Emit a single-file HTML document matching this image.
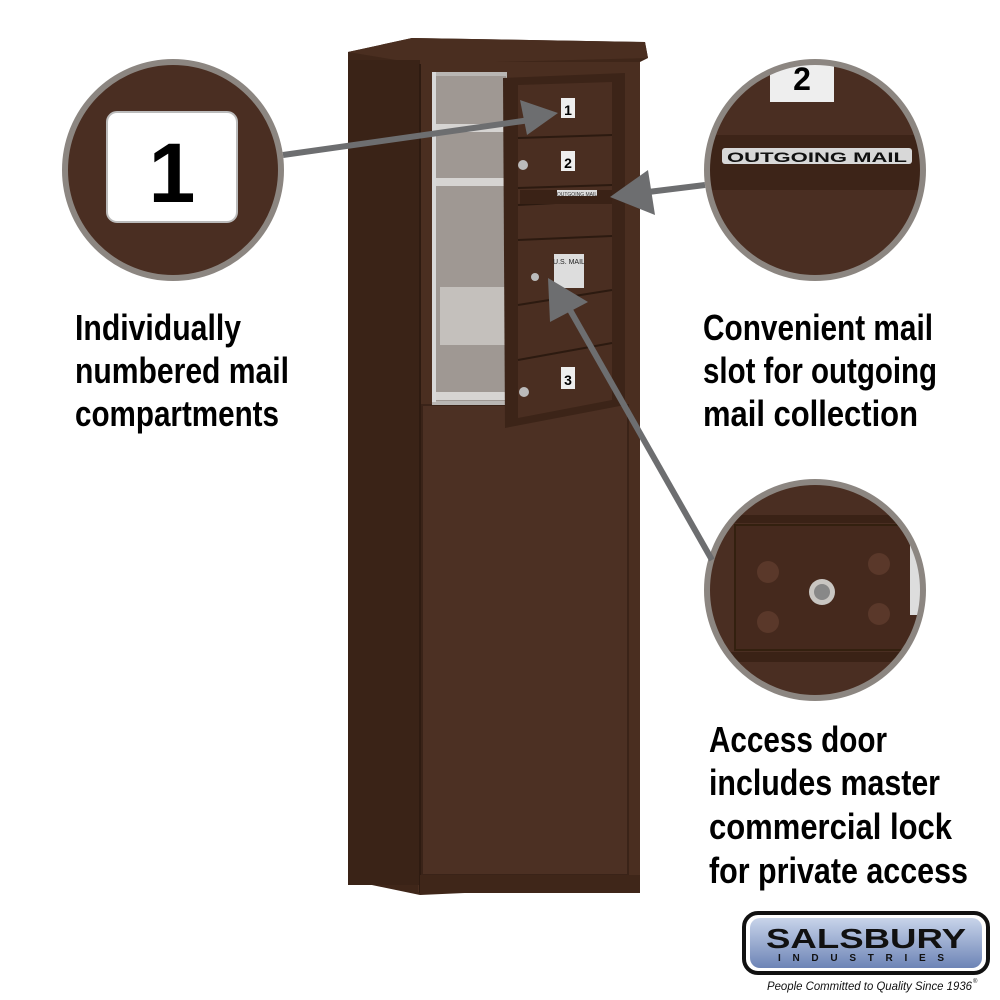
<!DOCTYPE html>
<html><head><meta charset="utf-8"><style>
html,body{margin:0;padding:0;background:#fff;width:1000px;height:1000px;overflow:hidden}
svg text{font-family:"Liberation Sans",sans-serif}
</style></head><body>
<svg width="1000" height="1000" viewBox="0 0 1000 1000" xmlns="http://www.w3.org/2000/svg">
<defs>
<linearGradient id="g" x1="0" y1="0" x2="0" y2="1"><stop offset="0" stop-color="#c8d4ea"/><stop offset="1" stop-color="#6d84b6"/></linearGradient>
<clipPath id="c2"><circle cx="815" cy="170" r="106"/></clipPath>
<clipPath id="c3"><circle cx="815" cy="590" r="106"/></clipPath>
</defs>
<rect width="1000" height="1000" fill="#fff"/>
<!-- cabinet -->
<polygon points="348,52 412,38 645,42 648,58 640,62 640,885 420,895 348,880" fill="#3f2619"/>
<polygon points="348,52 412,38 645,42 648,58 420,64" fill="#4a2e20"/>
<rect x="418" y="62" width="222" height="830" fill="#4a2e20"/>
<rect x="348" y="60" width="72" height="825" fill="#3a2317"/>
<line x1="420" y1="64" x2="420" y2="893" stroke="#2e1b11" stroke-width="2"/>
<rect x="422" y="405" width="206" height="470" fill="#4c3023" stroke="#3a2318" stroke-width="2"/>
<rect x="420" y="875" width="220" height="18" fill="#3f2619"/>
<!-- interior -->
<rect x="432" y="72" width="75" height="333" fill="#b9b6b3"/>
<rect x="436" y="76" width="70" height="325" fill="#9f9893"/>
<rect x="434" y="124" width="72" height="8" fill="#d6d4d2"/>
<rect x="434" y="178" width="72" height="8" fill="#d6d4d2"/>
<rect x="440" y="287" width="66" height="58" fill="#c4c0bc"/>
<rect x="434" y="392" width="72" height="8" fill="#d6d4d2"/>
<rect x="432" y="72" width="4" height="330" fill="#d8d8d8"/>
<!-- open door -->
<polygon points="503,78 625,73 625,405 505,428" fill="#3c2418"/>
<polygon points="518,85 612,82 612,400 518,418" fill="#4a2e21"/>
<g stroke="#2c1a10" stroke-width="2" fill="none">
<line x1="518" y1="138" x2="612" y2="135"/>
<line x1="518" y1="188" x2="612" y2="185"/>
<line x1="518" y1="205" x2="612" y2="200"/>
<line x1="518" y1="240" x2="612" y2="236"/>
<line x1="518" y1="305" x2="612" y2="290"/>
<line x1="518" y1="360" x2="612" y2="343"/>
</g>
<rect x="520" y="190" width="92" height="14" fill="#3a2216"/>
<rect x="557" y="190" width="40" height="6" fill="#ddd"/>
<text x="577" y="196" font-size="5" text-anchor="middle" fill="#333">OUTGOING MAIL</text>
<rect x="561" y="98" width="14" height="20" fill="#eee"/><text x="568" y="115" font-size="14" font-weight="bold" text-anchor="middle">1</text>
<rect x="561" y="151" width="14" height="20" fill="#eee"/><text x="568" y="168" font-size="14" font-weight="bold" text-anchor="middle">2</text>
<rect x="561" y="367" width="14" height="22" fill="#eee"/><text x="568" y="385" font-size="14" font-weight="bold" text-anchor="middle">3</text>
<rect x="554" y="254" width="30" height="34" fill="#ddd"/>
<text x="569" y="264" font-size="7" text-anchor="middle" fill="#222">U.S. MAIL</text>
<circle cx="523" cy="165" r="5" fill="#bbb"/><circle cx="535" cy="277" r="4" fill="#bbb"/><circle cx="524" cy="392" r="5" fill="#bbb"/>
<!-- circles -->
<circle cx="173" cy="170" r="108" fill="#4a2e22" stroke="#8c8681" stroke-width="6"/>
<rect x="107" y="112" width="130" height="110" rx="10" fill="#fff" stroke="#bbb" stroke-width="2"/>
<text x="172" y="202" font-size="84" font-weight="bold" text-anchor="middle" fill="#000">1</text>
<circle cx="815" cy="170" r="108" fill="#4a2e22"/>
<g clip-path="url(#c2)">
<rect x="770" y="55" width="64" height="47" fill="#eee"/>
<text x="802" y="90" font-size="32" font-weight="bold" text-anchor="middle" fill="#000">2</text>
<rect x="700" y="135" width="230" height="55" fill="#3d2418"/>
<rect x="722" y="148" width="190" height="16" rx="3" fill="#d8d8d8"/>
<text x="817" y="162" font-size="14" font-weight="bold" text-anchor="middle" fill="#111" textLength="180" lengthAdjust="spacingAndGlyphs">OUTGOING MAIL</text>
</g>
<circle cx="815" cy="170" r="108" fill="none" stroke="#8c8681" stroke-width="6"/>
<circle cx="815" cy="590" r="108" fill="#4a2e22"/>
<g clip-path="url(#c3)">
<rect x="700" y="515" width="230" height="8" fill="#3a2216"/>
<rect x="735" y="525" width="200" height="125" fill="#45291d" stroke="#33200f" stroke-width="2"/>
<rect x="700" y="652" width="230" height="10" fill="#3a2216"/>
<g fill="#5a382a"><circle cx="768" cy="572" r="11"/><circle cx="879" cy="564" r="11"/><circle cx="768" cy="622" r="11"/><circle cx="879" cy="614" r="11"/></g>
<circle cx="822" cy="592" r="13" fill="#c9c6c2"/><circle cx="822" cy="592" r="8" fill="#888"/>
<rect x="910" y="545" width="20" height="70" fill="#ddd"/>
</g>
<circle cx="815" cy="590" r="108" fill="none" stroke="#8c8681" stroke-width="6"/>
<!-- arrows -->
<g stroke="#6d6e70" stroke-width="6" fill="#6d6e70">
<line x1="283" y1="155" x2="530" y2="120"/>
<polygon points="558,113 520,100 527,135" stroke="none"/>
<line x1="705" y1="185" x2="640" y2="193"/>
<polygon points="610,197 648,170 655,215" stroke="none"/>
<line x1="712" y1="560" x2="570" y2="310"/>
<polygon points="548,278 550,322 588,302" stroke="none"/>
</g>
<!-- text -->
<g font-size="36" font-weight="bold" fill="#000">
<text x="75" y="340" textLength="166" lengthAdjust="spacingAndGlyphs">Individually</text>
<text x="75" y="383" textLength="214" lengthAdjust="spacingAndGlyphs">numbered mail</text>
<text x="75" y="426" textLength="204" lengthAdjust="spacingAndGlyphs">compartments</text>
<text x="703" y="340" textLength="230" lengthAdjust="spacingAndGlyphs">Convenient mail</text>
<text x="703" y="383" textLength="234" lengthAdjust="spacingAndGlyphs">slot for outgoing</text>
<text x="703" y="426" textLength="215" lengthAdjust="spacingAndGlyphs">mail collection</text>
<text x="709" y="752" textLength="178" lengthAdjust="spacingAndGlyphs">Access door</text>
<text x="709" y="795" textLength="231" lengthAdjust="spacingAndGlyphs">includes master</text>
<text x="709" y="839" textLength="243" lengthAdjust="spacingAndGlyphs">commercial lock</text>
<text x="709" y="883" textLength="259" lengthAdjust="spacingAndGlyphs">for private access</text>
</g>
<!-- logo -->
<rect x="744" y="913" width="244" height="60" rx="14" fill="#fff" stroke="#111" stroke-width="4"/>
<rect x="750" y="918" width="232" height="50" rx="10" fill="url(#g)"/>
<text x="866" y="948" font-size="28" font-weight="bold" text-anchor="middle" fill="#111" textLength="200" lengthAdjust="spacingAndGlyphs">SALSBURY</text>
<text x="866" y="961" font-size="10" font-weight="bold" text-anchor="middle" fill="#111" textLength="176" letter-spacing="10">INDUSTRIES</text>
<text x="767" y="990" font-size="12" font-style="italic" fill="#111" textLength="205" lengthAdjust="spacingAndGlyphs">People Committed to Quality Since 1936</text>
<text x="973" y="983" font-size="6" fill="#111">®</text>
</svg>
</body></html>
